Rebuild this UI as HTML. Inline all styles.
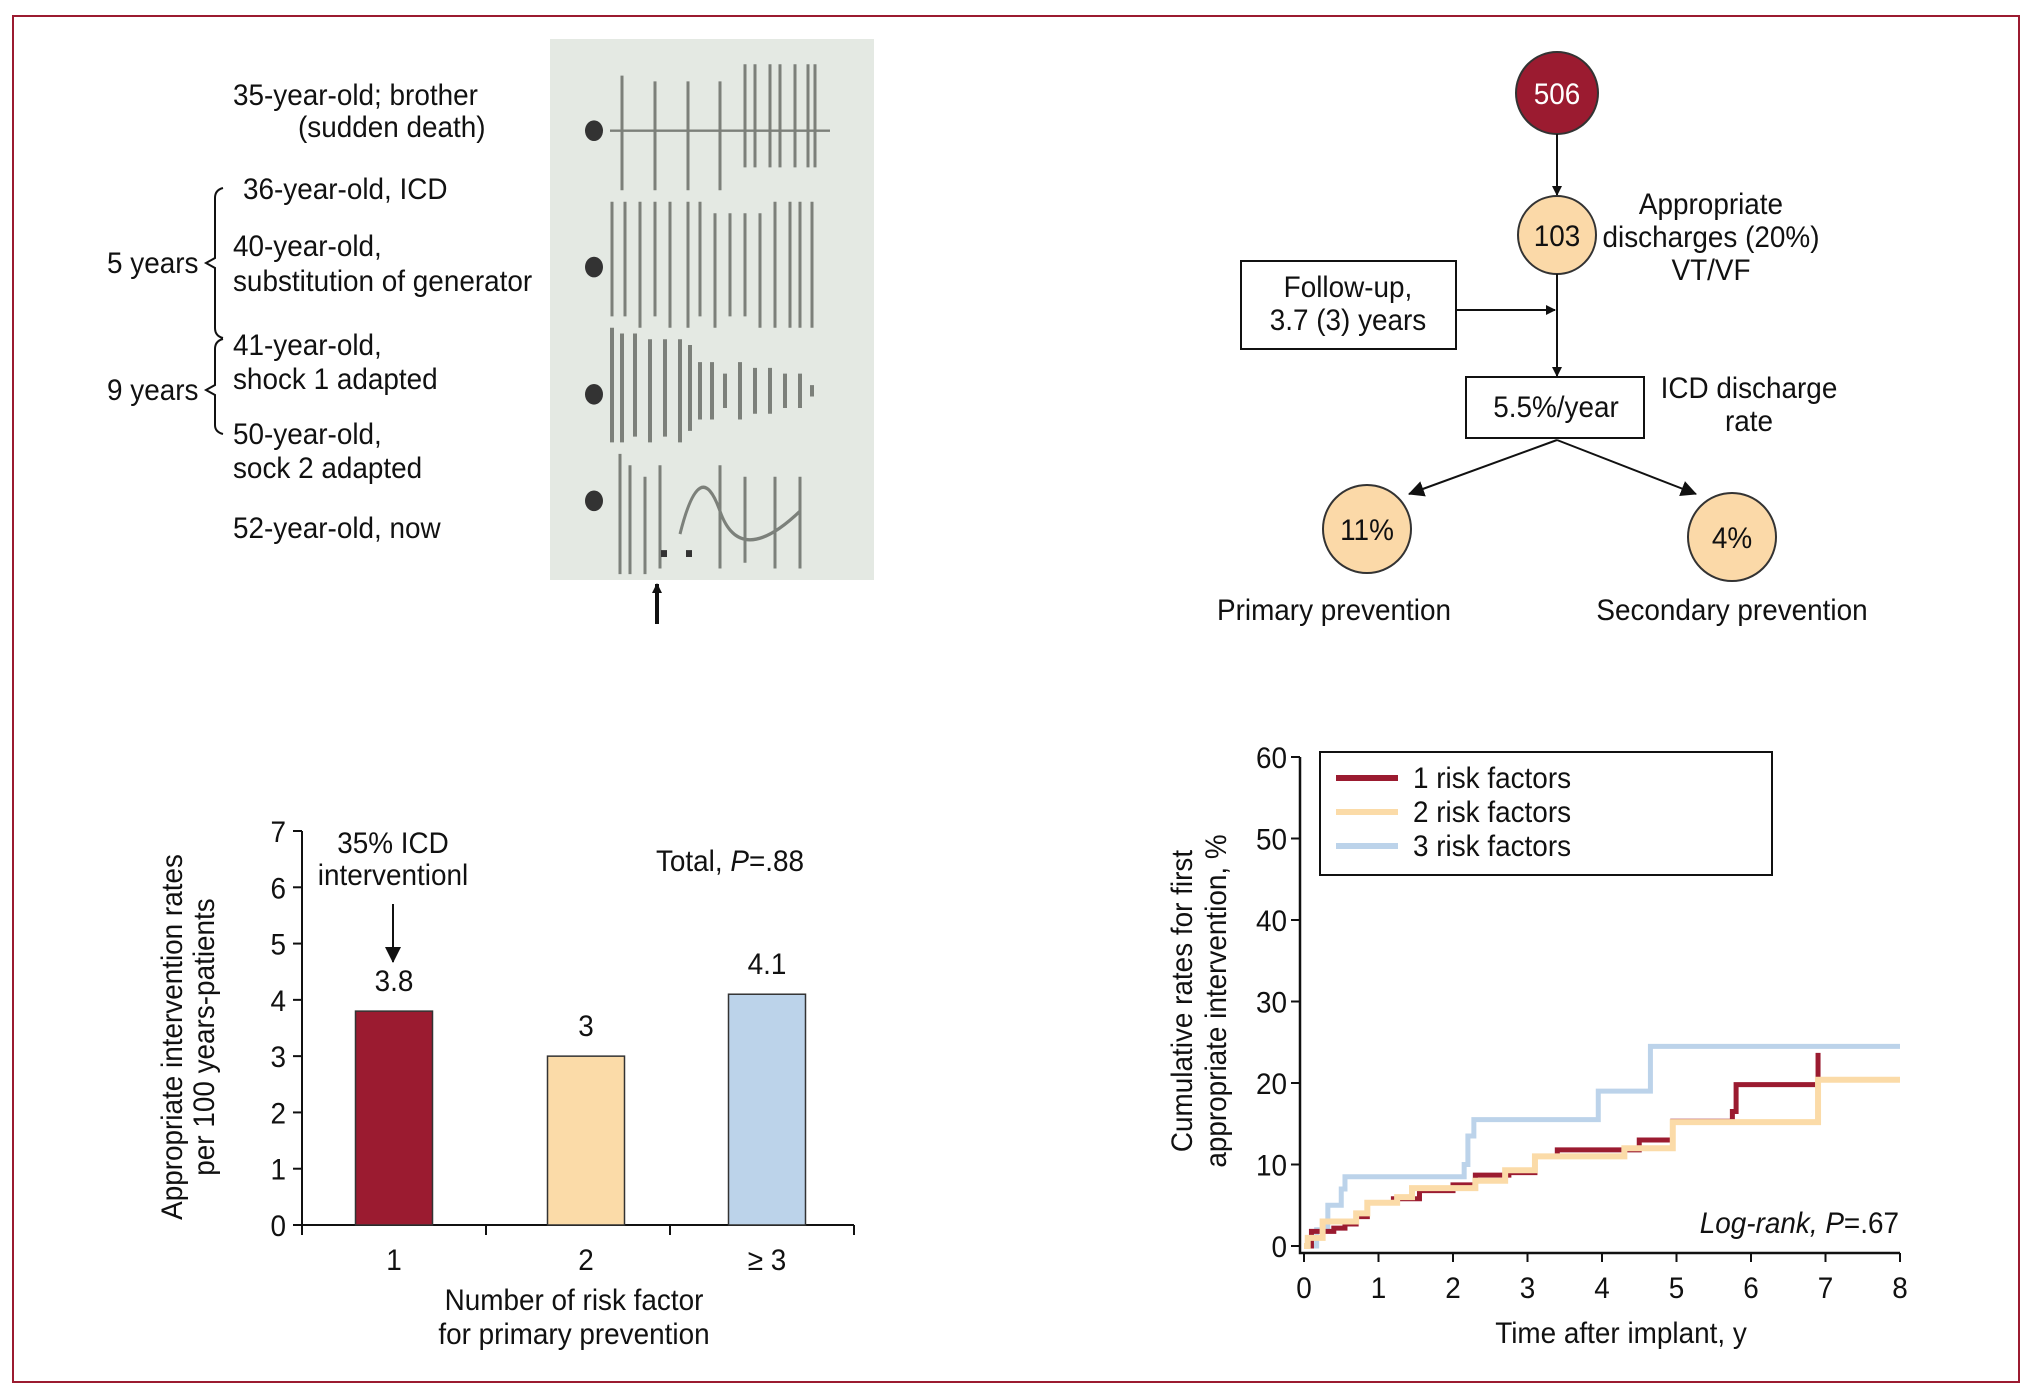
<!DOCTYPE html>
<html><head><meta charset="utf-8"><style>
html,body{margin:0;padding:0;background:#fff;width:2033px;height:1395px;overflow:hidden}
svg{display:block;font-family:"Liberation Sans Narrow","Liberation Sans",sans-serif;fill:#111}
text{font-size:30px}
text.l,text.c,text.r{transform-box:fill-box;transform:scaleX(0.93)}
text.l{transform-origin:left center}
text.c{transform-origin:center center}
text.r{transform-origin:right center}
</style></head><body>
<svg id="fig" width="2033" height="1395" viewBox="0 0 2033 1395">
<defs><marker id="ah" markerWidth="10" markerHeight="10" refX="9" refY="5" orient="auto" markerUnits="userSpaceOnUse"><path d="M0,0 L10,5 L0,10 z" fill="#111"/></marker>
<marker id="ah2" markerWidth="16" markerHeight="16" refX="15" refY="8" orient="auto" markerUnits="userSpaceOnUse"><path d="M0,0 L16,8 L0,16 z" fill="#111"/></marker></defs>
<rect x="13" y="16" width="2006" height="1366" fill="none" stroke="#9b1b30" stroke-width="2"/>

<g>
<text class="l" x="233" y="105">35-year-old; brother</text>
<text class="l" x="298" y="137">(sudden death)</text>
<text class="l" x="243" y="199">36-year-old, ICD</text>
<text class="l" x="233" y="256">40-year-old,</text>
<text class="l" x="233" y="291">substitution of generator</text>
<text class="l" x="233" y="355">41-year-old,</text>
<text class="l" x="233" y="389">shock 1 adapted</text>
<text class="l" x="233" y="444">50-year-old,</text>
<text class="l" x="233" y="478">sock 2 adapted</text>
<text class="l" x="233" y="538">52-year-old, now</text>
<text class="l" x="107" y="273">5 years</text>
<text class="l" x="107" y="400">9 years</text>
<path d="M223,188 Q215,190 215,198 L215,258 L206,263 L215,268 L215,328 Q215,336 223,338" fill="none" stroke="#111" stroke-width="2"/>
<path d="M223,339 Q215,341 215,349 L215,385 L206,390 L215,395 L215,425 Q215,432 223,434" fill="none" stroke="#111" stroke-width="2"/>
</g>

<g>
<rect x="550" y="39" width="324" height="541" fill="#e4e9e3"/>
<g transform="translate(0,39) scale(1,1.146) translate(0,-38)">
<g stroke="#6a6e68" stroke-width="3" opacity="0.85">
<path d="M610,118 H830" stroke-width="2"/>
<path d="M622,70 V170 M655,75 V170 M688,75 V170 M720,75 V170 M745,60 V150 M755,60 V150 M770,60 V150 M780,60 V150 M795,60 V150 M808,60 V150 M815,60 V150"/>
<path d="M612,180 V280 M625,180 V280 M640,180 V290 M655,180 V280 M670,180 V290 M688,180 V290 M700,180 V280 M715,190 V290 M730,190 V280 M745,190 V280 M760,190 V290 M775,180 V290 M790,180 V290 M800,180 V290 M812,180 V290"/>
<path d="M612,290 V390 M622,295 V390 M635,295 V385 M650,300 V390 M665,300 V385 M680,300 V390 M690,305 V380 M700,320 V370 M712,320 V370 M725,330 V360 M740,320 V370 M755,325 V365 M770,325 V365 M785,330 V360 M800,330 V360 M812,340 V350" stroke-width="4"/>
<path d="M620,400 V505 M630,410 V505 M645,420 V505 M660,410 V500 M680,470 Q700,400 720,450 T800,450 M720,410 V500 M745,420 V495 M775,420 V500 M800,420 V500" fill="none"/>
</g>
<g fill="#333"><circle cx="594" cy="118" r="9"/><circle cx="594" cy="237" r="9"/><circle cx="594" cy="348" r="9"/><circle cx="594" cy="441" r="9"/>
<rect x="661" y="484" width="6" height="6"/><rect x="686" y="484" width="6" height="6"/></g>
</g>
<line x1="657" y1="624" x2="657" y2="584" stroke="#111" stroke-width="4" marker-end="url(#ah)"/>
</g>

<g>
<circle cx="1557" cy="93" r="41" fill="#9b1b30" stroke="#333" stroke-width="2"/>
<text class="c" x="1557" y="104" text-anchor="middle" style="fill:#fff">506</text>
<line x1="1557" y1="134" x2="1557" y2="195" stroke="#111" stroke-width="2" marker-end="url(#ah)"/>
<circle cx="1557" cy="235" r="39" fill="#fbd9a8" stroke="#333" stroke-width="2"/>
<text class="c" x="1557" y="246" text-anchor="middle">103</text>
<text class="c" x="1711" y="214" text-anchor="middle">Appropriate</text>
<text class="c" x="1711" y="247" text-anchor="middle">discharges (20%)</text>
<text class="c" x="1711" y="280" text-anchor="middle">VT/VF</text>
<rect x="1241" y="261" width="215" height="88" fill="#fff" stroke="#111" stroke-width="2"/>
<text class="c" x="1348" y="297" text-anchor="middle">Follow-up,</text>
<text class="c" x="1348" y="330" text-anchor="middle">3.7 (3) years</text>
<line x1="1456" y1="310" x2="1555" y2="310" stroke="#111" stroke-width="2" marker-end="url(#ah)"/>
<line x1="1557" y1="274" x2="1557" y2="376" stroke="#111" stroke-width="2" marker-end="url(#ah)"/>
<rect x="1466" y="377" width="178" height="61" fill="#fff" stroke="#111" stroke-width="2"/>
<text class="c" x="1556" y="417" text-anchor="middle">5.5%/year</text>
<text class="c" x="1749" y="398" text-anchor="middle">ICD discharge</text>
<text class="c" x="1749" y="431" text-anchor="middle">rate</text>
<line x1="1557" y1="440" x2="1409" y2="494" stroke="#111" stroke-width="2" marker-end="url(#ah2)"/>
<line x1="1557" y1="440" x2="1696" y2="494" stroke="#111" stroke-width="2" marker-end="url(#ah2)"/>
<circle cx="1367" cy="529" r="44" fill="#fbd9a8" stroke="#333" stroke-width="2"/>
<text class="c" x="1367" y="540" text-anchor="middle">11%</text>
<circle cx="1732" cy="537" r="44" fill="#fbd9a8" stroke="#333" stroke-width="2"/>
<text class="c" x="1732" y="548" text-anchor="middle">4%</text>
<text class="c" x="1334" y="620" text-anchor="middle">Primary prevention</text>
<text class="c" x="1732" y="620" text-anchor="middle">Secondary prevention</text>
</g>

<g id="bar"></g>
<g id="km"></g>
</svg>
<script>
const NS='http://www.w3.org/2000/svg';
function mk(p,tag,attrs,txt){const e=document.createElementNS(NS,tag);for(const k in attrs)e.setAttribute(k,attrs[k]);if(txt!==undefined)e.textContent=txt;p.appendChild(e);return e;}

// ---- Bar chart data ----
const barCategories=['1','2','\u2265 3'];
const barValues=[3.8,3,4.1];
const barLabels=['3.8','3','4.1'];
const barYTicks=[0,1,2,3,4,5,6,7];
const barColors=['#9b1b30','#fbdba8','#bcd3ea'];

// ---- KM data ----
const kmSeriesNames=['1 risk factors','2 risk factors','3 risk factors'];
const kmTimes1=[0,0.1,0.4,0.55,0.7,0.85,1.2,1.55,2.0,2.3,2.75,3.1,3.4,4.5,4.95,5.75,5.8,6.9];
const kmVals1=[0,1.8,2.2,2.7,3.6,5.3,5.8,6.8,7.5,8.7,9.0,11,11.8,13,15.3,16.5,19.8,23.7];
const kmTimes2=[0,0.05,0.25,0.7,0.85,1.25,1.45,2.3,2.7,3.1,4.3,4.95,6.9];
const kmVals2=[0,1,3,4,5.3,6,7.1,8,9.3,11,12,15.2,20.4];
const kmTimes3=[0,0.17,0.32,0.5,0.55,2.15,2.2,2.28,3.95,4.65];
const kmVals3=[0,2,5,7,8.5,10,13.5,15.5,19,24.5];
const kmXTicks=[0,1,2,3,4,5,6,7,8];
const kmYTicks=[0,10,20,30,40,50,60];
const kmColors=['#9b1b30','#fbdba8','#bcd3ea'];

(function(){
 const g=document.getElementById('bar');
 const x0=302,x1=854,y0=1225,yTop=831,ymax=7;
 const ys=v=>y0-(v/ymax)*(y0-yTop);
 const slot=(x1-x0)/barCategories.length, bw=77;
 const ax=mk(g,'path',{d:`M${x0},${yTop} V${y0} H${x1}`,fill:'none',stroke:'#111','stroke-width':2});
 
 
 barYTicks.forEach(t=>{
  mk(g,'line',{x1:x0-9,x2:x0,y1:ys(t),y2:ys(t),stroke:'#111','stroke-width':2});
  const l=mk(g,'text',{x:x0-16,y:ys(t)+11,'text-anchor':'end','class':'r'},t);
  
  
 });
 for(let i=0;i<=barCategories.length;i++){const xx=x0+slot*i;mk(g,'line',{x1:xx,x2:xx,y1:y0,y2:y0+10,stroke:'#111','stroke-width':2});}
 barCategories.forEach((c,i)=>{
  const cx=x0+slot*(i+0.5)+(i===0?0:(i===2?5:8));
  const r=mk(g,'rect',{x:cx-bw/2,y:ys(barValues[i]),width:bw,height:y0-ys(barValues[i]),fill:barColors[i],stroke:'#333','stroke-width':1.5});
  
  
  const v=mk(g,'text',{x:cx,y:ys(barValues[i])-20,'text-anchor':'middle','class':'c'},barLabels[i]);
  
  
  const xl=mk(g,'text',{x:cx,y:1270,'text-anchor':'middle','class':'c'},c);
  
  
 });
 const t1=mk(g,'text',{x:574,y:1310,'text-anchor':'middle','class':'c'},'Number of risk factor');
 
 
 mk(g,'text',{x:574,y:1344,'text-anchor':'middle','class':'c'},'for primary prevention');
 const yt=mk(g,'text',{transform:'translate(182,1037) rotate(-90) scale(0.93,1)','text-anchor':'middle'},'Appropriate intervention rates');
 
 
 mk(g,'text',{transform:'translate(214,1037) rotate(-90) scale(0.93,1)','text-anchor':'middle'},'per 100 years-patients');
 const an=mk(g,'text',{x:393,y:853,'text-anchor':'middle','class':'c'},'35% ICD');
 
 
 mk(g,'text',{x:393,y:885,'text-anchor':'middle','class':'c'},'interventionl');
 mk(g,'line',{x1:393,y1:904,x2:393,y2:962,stroke:'#111','stroke-width':2,'marker-end':'url(#ah2)'});
 const tp=mk(g,'text',{x:730,y:871,'text-anchor':'middle','class':'c'});
 
 
 tp.innerHTML='Total, <tspan font-style="italic">P</tspan>=.88';
})();

(function(){
 const g=document.getElementById('km');
 const x0=1304,x1=1900,y0=1246,yTop=757,xmax=8,ymax=60;
 const xs=t=>x0+(t/xmax)*(x1-x0);
 const ys=v=>y0-(v/ymax)*(y0-yTop);
 const ax=mk(g,'path',{d:`M1300,${yTop} V1253 H${x1}`,fill:'none',stroke:'#111','stroke-width':2.5});
 
 
 kmYTicks.forEach(t=>{
  mk(g,'line',{x1:1291,x2:1300,y1:ys(t),y2:ys(t),stroke:'#111','stroke-width':2});
  const l=mk(g,'text',{x:1287,y:ys(t)+11,'text-anchor':'end','class':'r'},t);
  
  
 });
 kmXTicks.forEach(t=>{
  mk(g,'line',{x1:xs(t),x2:xs(t),y1:1253,y2:1262,stroke:'#111','stroke-width':2});
  const l=mk(g,'text',{x:xs(t),y:1298,'text-anchor':'middle','class':'c'},t);
  
  
 });
 [[kmTimes3,kmVals3,2,null],[kmTimes1,kmVals1,0,6.9],[kmTimes2,kmVals2,1,null]].forEach(([ts,vs,ci,end])=>{
  let d=`M${xs(ts[0])},${ys(vs[0])}`;
  for(let i=1;i<ts.length;i++){d+=` H${xs(ts[i])} V${ys(vs[i])}`;}
  d+=` H${xs(end===null?xmax:end)}`;
  const p=mk(g,'path',{d:d,fill:'none',stroke:kmColors[ci],'stroke-width':ci===1?6:5});
  
  
 });
 const lg=mk(g,'rect',{x:1320,y:752,width:452,height:123,fill:'#fff',stroke:'#111','stroke-width':2});
 
 
 kmSeriesNames.forEach((n,i)=>{
  const yy=778+i*34;
  mk(g,'line',{x1:1336,x2:1398,y1:yy,y2:yy,stroke:kmColors[i],'stroke-width':6});
  const t=mk(g,'text',{x:1413,y:yy+10,'class':'l'},n);
  
  
 });
 const xt=mk(g,'text',{x:1621,y:1343,'text-anchor':'middle','class':'c'},'Time after implant, y');
 
 
 const yt=mk(g,'text',{transform:'translate(1192,1001) rotate(-90) scale(0.93,1)','text-anchor':'middle'},'Cumulative rates for first');
 
 
 mk(g,'text',{transform:'translate(1226,1001) rotate(-90) scale(0.93,1)','text-anchor':'middle'},'appropriate intervention, %');
 const lr=mk(g,'text',{x:1899,y:1233,'text-anchor':'end','font-style':'italic','class':'r'});
 
 
 lr.innerHTML='Log-rank, P<tspan font-style="normal">=.67</tspan>';
})();
</script>
</body></html>
